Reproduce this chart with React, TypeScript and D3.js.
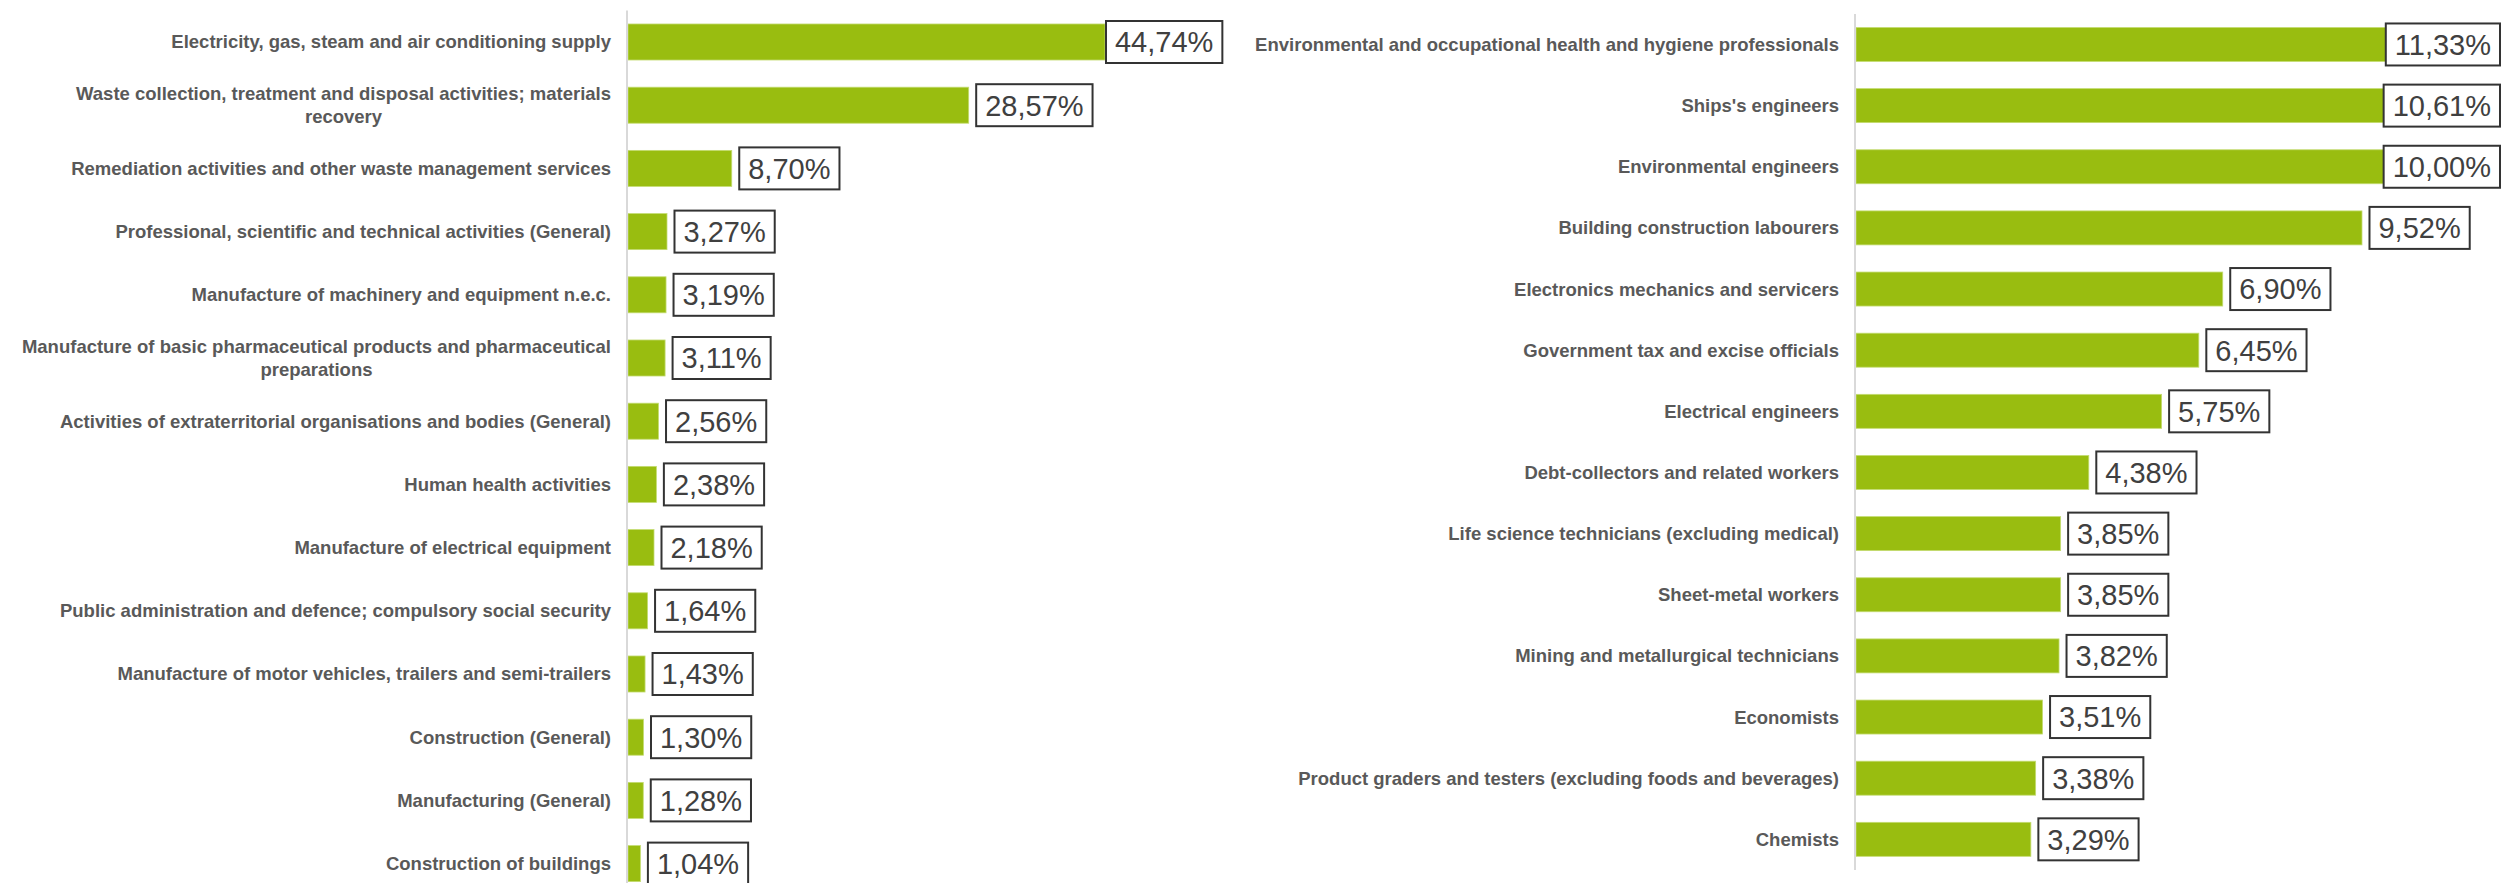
import * as d3 from "d3";

const WIDTH = 2503;
const HEIGHT = 883;
const GREEN = "#99bd10";
const LABEL_FONT = "bold 18.5px 'Liberation Sans', Arial, sans-serif";
const VALUE_FONT = "29px 'Liberation Sans', Arial, sans-serif";

// left panel: sectors
const sectorCategories = [
  "Electricity, gas, steam and air conditioning supply",
  "Waste collection, treatment and disposal activities; materials recovery",
  "Remediation activities and other waste management services",
  "Professional, scientific and technical activities (General)",
  "Manufacture of machinery and equipment n.e.c.",
  "Manufacture of basic pharmaceutical products and pharmaceutical preparations",
  "Activities of extraterritorial organisations and bodies (General)",
  "Human health activities",
  "Manufacture of electrical equipment",
  "Public administration and defence; compulsory social security",
  "Manufacture of motor vehicles, trailers and semi-trailers",
  "Construction (General)",
  "Manufacturing (General)",
  "Construction of buildings",
];
const sectorValues = [44.74, 28.57, 8.7, 3.27, 3.19, 3.11, 2.56, 2.38, 2.18, 1.64, 1.43, 1.3, 1.28, 1.04];

// right panel: occupations
const occupationCategories = [
  "Environmental and occupational health and hygiene professionals",
  "Ships's engineers",
  "Environmental engineers",
  "Building construction labourers",
  "Electronics mechanics and servicers",
  "Government tax and excise officials",
  "Electrical engineers",
  "Debt-collectors and related workers",
  "Life science technicians (excluding medical)",
  "Sheet-metal workers",
  "Mining and metallurgical technicians",
  "Economists",
  "Product graders and testers (excluding foods and beverages)",
  "Chemists",
];
const occupationValues = [11.33, 10.61, 10.0, 9.52, 6.9, 6.45, 5.75, 4.38, 3.85, 3.85, 3.82, 3.51, 3.38, 3.29];

let ctx: CanvasRenderingContext2D | null = null;
const measure = (text: string, font: string) => {
  if (!ctx) ctx = document.createElement("canvas").getContext("2d");
  ctx!.font = font;
  return ctx!.measureText(text).width;
};

const wrap = (text: string, maxWidth: number) => {
  const words = text.split(" ");
  const lines: string[] = [];
  let line = "";
  for (const w of words) {
    const next = line ? line + " " + w : w;
    if (line && measure(next, LABEL_FONT) > maxWidth) {
      lines.push(line);
      line = w;
    } else {
      line = next;
    }
  }
  if (line) lines.push(line);
  return lines;
};

const fmt = (v: number) => d3.format(".2f")(v).replace(".", ",") + "%";

interface PanelProps {
  categories: string[];
  values: number[];
  axisX: number;
  plotEnd: number;
  domainMax: number;
  yRange: [number, number];
  padding: number;
  wrapWidth: number;
}

const Panel = ({ categories, values, axisX, plotEnd, domainMax, yRange, padding, wrapWidth }: PanelProps) => {
  const x = d3.scaleLinear().domain([0, domainMax]).range([axisX + 1, plotEnd]).clamp(true);
  const y = d3.scaleBand<string>().domain(categories).range(yRange).paddingInner(padding).paddingOuter(padding / 2);
  const labelRight = axisX - 16;

  return (
    <g>
      {values.map((v, i) => {
        const cat = categories[i];
        const cy = (y(cat) ?? 0) + y.bandwidth() / 2;
        return (
          <rect
            key={"b" + i}
            x={x(0)}
            y={y(cat)}
            width={x(v) - x(0)}
            height={y.bandwidth()}
            fill={GREEN}
            stroke="#c4dc72"
            strokeWidth={0.8}
            data-cy={cy}
          />
        );
      })}
      <line x1={axisX} x2={axisX} y1={yRange[0]} y2={yRange[1]} stroke="#d9d9d9" strokeWidth={2} />
      {categories.map((cat, i) => {
        const lines = wrap(cat, wrapWidth);
        const cy = (y(cat) ?? 0) + y.bandwidth() / 2;
        const maxW = d3.max(lines, (l) => measure(l, LABEL_FONT)) ?? 0;
        const cx = labelRight - maxW / 2;
        const lh = 22.5;
        return (
          <text
            key={"l" + i}
            fontFamily="'Liberation Sans', Arial, sans-serif"
            fontWeight="bold"
            fontSize={18.5}
            fill="#595959"
            textAnchor="middle"
          >
            {lines.map((l, j) => (
              <tspan key={j} x={cx} y={cy + (j - (lines.length - 1) / 2) * lh} dy="0.35em">
                {l}
              </tspan>
            ))}
          </text>
        );
      })}
      {values.map((v, i) => {
        const cat = categories[i];
        const cy = (y(cat) ?? 0) + y.bandwidth() / 2;
        const label = fmt(v);
        const w = measure(label, VALUE_FONT) + 18;
        const h = 42;
        const x0 = v > domainMax ? plotEnd + 1 : x(v) + 7.5;
        const bx = Math.min(x0, 2500 - w);
        return (
          <g key={"v" + i}>
            <rect x={bx} y={cy - h / 2} width={w} height={h} fill="#fff" stroke="#333" strokeWidth={2} />
            <text
              x={bx + w / 2}
              y={cy}
              dy="0.36em"
              textAnchor="middle"
              fontFamily="'Liberation Sans', Arial, sans-serif"
              fontSize={29}
              fill="#404040"
            >
              {label}
            </text>
          </g>
        );
      })}
    </g>
  );
};

export default function App() {
  return (
    <svg
      width={WIDTH}
      height={HEIGHT}
      viewBox={`0 0 ${WIDTH} ${HEIGHT}`}
      style={{ position: "absolute", left: 0, top: 0, background: "#fff" }}
    >
      <Panel
        categories={sectorCategories}
        values={sectorValues}
        axisX={627}
        plotEnd={1105}
        domainMax={40}
        yRange={[10.4, 895.2]}
        padding={0.43}
        wrapWidth={600}
      />
      <Panel
        categories={occupationCategories}
        values={occupationValues}
        axisX={1855}
        plotEnd={2387.5}
        domainMax={10}
        yRange={[13.9, 869.9]}
        padding={0.444}
        wrapWidth={900}
      />
    </svg>
  );
}
